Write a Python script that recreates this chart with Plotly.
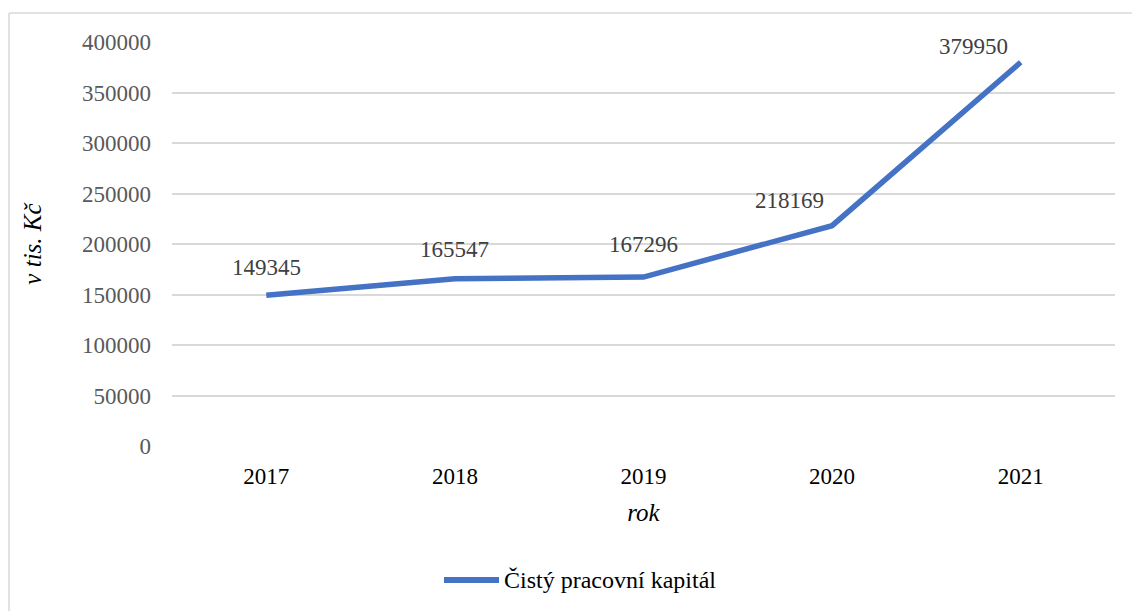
import plotly.graph_objects as go

years = ["2017", "2018", "2019", "2020", "2021"]
values = [149345, 165547, 167296, 218169, 379950]
series_name = "Čistý pracovní kapitál"

# label offsets (pixels) relative to each point
label_dx = [0, 0, 0, -43, -47]
label_dy = [28, 29, 33, 25, 16]

FONT = "'Liberation Serif', 'Times New Roman', 'DejaVu Serif', serif"
LINE_COLOR = "#4472C4"

# plot area in pixels
L, R, T, B = 172, 1115, 42, 446
W, H = R - L, B - T


def px_x(x):
    return (x - L) / W


def px_y(y):
    return (B - y) / H


fig = go.Figure()
fig.add_trace(go.Scatter(
    x=years, y=values, mode="lines", name=series_name, showlegend=False,
    line=dict(color=LINE_COLOR, width=5.5),
))

for i, (v, dx, dy) in enumerate(zip(values, label_dx, label_dy)):
    fig.add_annotation(x=i, y=v, text=str(v), showarrow=False,
                       xshift=dx, yshift=dy,
                       font=dict(family=FONT, size=23, color="#404040"))

# chart frame
fig.add_shape(type="line", xref="paper", yref="paper",
              x0=px_x(9), x1=px_x(1140), y0=px_y(13), y1=px_y(13),
              line=dict(color="#D9D9D9", width=1.5))
fig.add_shape(type="line", xref="paper", yref="paper",
              x0=px_x(9), x1=px_x(9), y0=px_y(13), y1=px_y(620),
              line=dict(color="#D9D9D9", width=1.5))

# legend
fig.add_shape(type="line", xref="paper", yref="paper",
              x0=px_x(444), x1=px_x(499), y0=px_y(580), y1=px_y(580),
              line=dict(color=LINE_COLOR, width=6))
fig.add_annotation(xref="paper", yref="paper", x=px_x(502), y=px_y(580),
                   xanchor="left", yanchor="middle", showarrow=False,
                   text=series_name, font=dict(family=FONT, size=24, color="#000000"))

fig.update_layout(
    width=1132, height=611,
    margin=dict(l=L, r=1132 - R, t=T, b=611 - B),
    paper_bgcolor="white", plot_bgcolor="white",
    font=dict(family=FONT, size=23, color="#000000"),
    showlegend=False,
    xaxis=dict(type="category", range=[-0.5, 4.5], showgrid=False, zeroline=False,
               showline=False, ticks="", tickfont=dict(family=FONT, size=23, color="#000000"),
               ticklabelstandoff=14,
               title=dict(text="<i>rok</i>", font=dict(family=FONT, size=25), standoff=15)),
    yaxis=dict(range=[0, 400000], dtick=50000, showgrid=True, gridcolor="#D9D9D9",
               gridwidth=1.5, zeroline=False, showline=False, ticks="",
               tickfont=dict(family=FONT, size=23, color="#595959"),
               ticklabelstandoff=20, tickformat="d",
               title=dict(text="<i>v tis. Kč</i>", font=dict(family=FONT, size=25), standoff=33)),
)

fig.write_html("out.html")
